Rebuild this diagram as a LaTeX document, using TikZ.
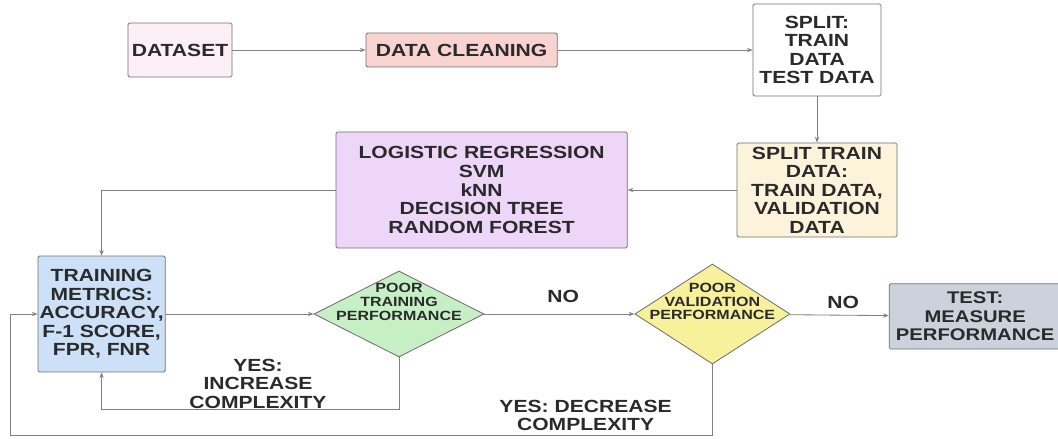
\documentclass[tikz,border=0pt]{standalone}
\usepackage{fontspec}
\setmainfont{Liberation Sans}[FakeStretch=1.2]
\usetikzlibrary{arrows.meta,shapes.geometric}

\definecolor{edgegray}{HTML}{707070}
\definecolor{linegray}{HTML}{808080}
\definecolor{inkgray}{HTML}{2A2A2A}
\definecolor{dataclr}{HTML}{FCEFF8}
\definecolor{cleanclr}{HTML}{F9D3CF}
\definecolor{trainclr}{HTML}{FCF3DA}
\definecolor{algoclr}{HTML}{EED6F9}
\definecolor{metricclr}{HTML}{CCE0F8}
\definecolor{greenclr}{HTML}{C6EFC6}
\definecolor{yellowclr}{HTML}{F8F19C}
\definecolor{testclr}{HTML}{CBD2DB}

\begin{document}
\begin{tikzpicture}[>={Stealth[length=4pt,width=3pt]},
  box/.style={draw=edgegray,line width=0.6pt,rounded corners=1pt,align=center,
    inner sep=1pt,text=inkgray,font=\bfseries\fontsize{12.5}{13.2}\selectfont},
  dia/.style={diamond,draw=edgegray,line width=0.6pt,inner sep=0pt},
  dtext/.style={align=center,text=inkgray,font=\bfseries\fontsize{9.5}{9.8}\selectfont},
  conn/.style={->,draw=linegray,line width=0.6pt},
  lbl/.style={align=center,text=inkgray,font=\bfseries\fontsize{12.5}{13.2}\selectfont}]
\useasboundingbox (0,0) rectangle (26.45,-10.975);
% ================= top row =================
\node[box,fill=dataclr,minimum width=2.6cm,minimum height=1.35cm] (dataset) at (4.5,-1.25) {DATASET};
\node[box,fill=cleanclr,minimum width=4.78cm,minimum height=0.85cm] (clean) at (11.54,-1.25) {DATA CLEANING};
\node[box,fill=white,minimum width=3.2cm,minimum height=2.3cm] (split) at (20.425,-1.25)
  {SPLIT:\\TRAIN\\DATA\\TEST DATA};
% ================= middle row =================
\node[box,fill=trainclr,minimum width=4.0cm,minimum height=2.35cm] (splittrain) at (20.425,-4.75)
  {SPLIT TRAIN\\DATA:\\TRAIN DATA,\\VALIDATION\\DATA};
\node[box,fill=algoclr,minimum width=7.28cm,minimum height=2.9cm] (algo) at (12.04,-4.75)
  {LOGISTIC REGRESSION\\SVM\\kNN\\DECISION TREE\\RANDOM FOREST};
% ================= bottom row =================
\node[box,fill=metricclr,minimum width=3.18cm,minimum height=2.9cm] (metrics) at (2.54,-7.85)
  {TRAINING\\METRICS:\\ACCURACY,\\F-1 SCORE,\\FPR, FNR};
\node[dia,fill=greenclr,minimum width=4.25cm,minimum height=2.15cm] (dtrain) at (9.975,-7.85) {};
\node[dtext] (dtrainlbl) at ([yshift=0.3cm]dtrain.center) {POOR\\TRAINING\\PERFORMANCE};
\node[dia,fill=yellowclr,minimum width=3.88cm,minimum height=2.5cm] (dval) at (17.81,-7.85) {};
\node[dtext] (dvallbl) at ([yshift=0.31cm]dval.center) {POOR\\VALIDATION\\PERFORMANCE};
\node[box,fill=testclr,minimum width=4.3cm,minimum height=1.63cm,
  font=\bfseries\fontsize{12}{13.2}\selectfont] (test) at (24.38,-7.91)
  {TEST:\\MEASURE\\PERFORMANCE};
% ================= connectors =================
\draw[conn] (dataset) -- (clean);
\draw[conn] (clean) -- (split);
\draw[conn] (split) -- (splittrain);
\draw[conn] (splittrain) -- (algo);
\draw[conn] (algo.west) -| (metrics.north);
\draw[conn] (metrics) -- (dtrain);
\draw[conn] (dtrain) -- (dval);
\draw[conn] (dval) -- (test);
% yes branches loop back to the metrics box
\draw[conn] (dtrain.south) -- ++(0,-1.3) -| (metrics.south);
\coordinate (back) at (0.25,-10.875);
\draw[conn] (dval.south) |- (back) |- (metrics.west);
% ================= labels =================
\node[lbl] (no1) at (14.08,-7.42) {NO};
\node[lbl] (no2) at (21.08,-7.55) {NO};
\node[lbl] (incr) at (6.45,-9.59) {YES:\\INCREASE\\COMPLEXITY};
\node[lbl] (decr) at (14.64,-10.39) {YES: DECREASE\\COMPLEXITY};
\end{tikzpicture}
\end{document}
